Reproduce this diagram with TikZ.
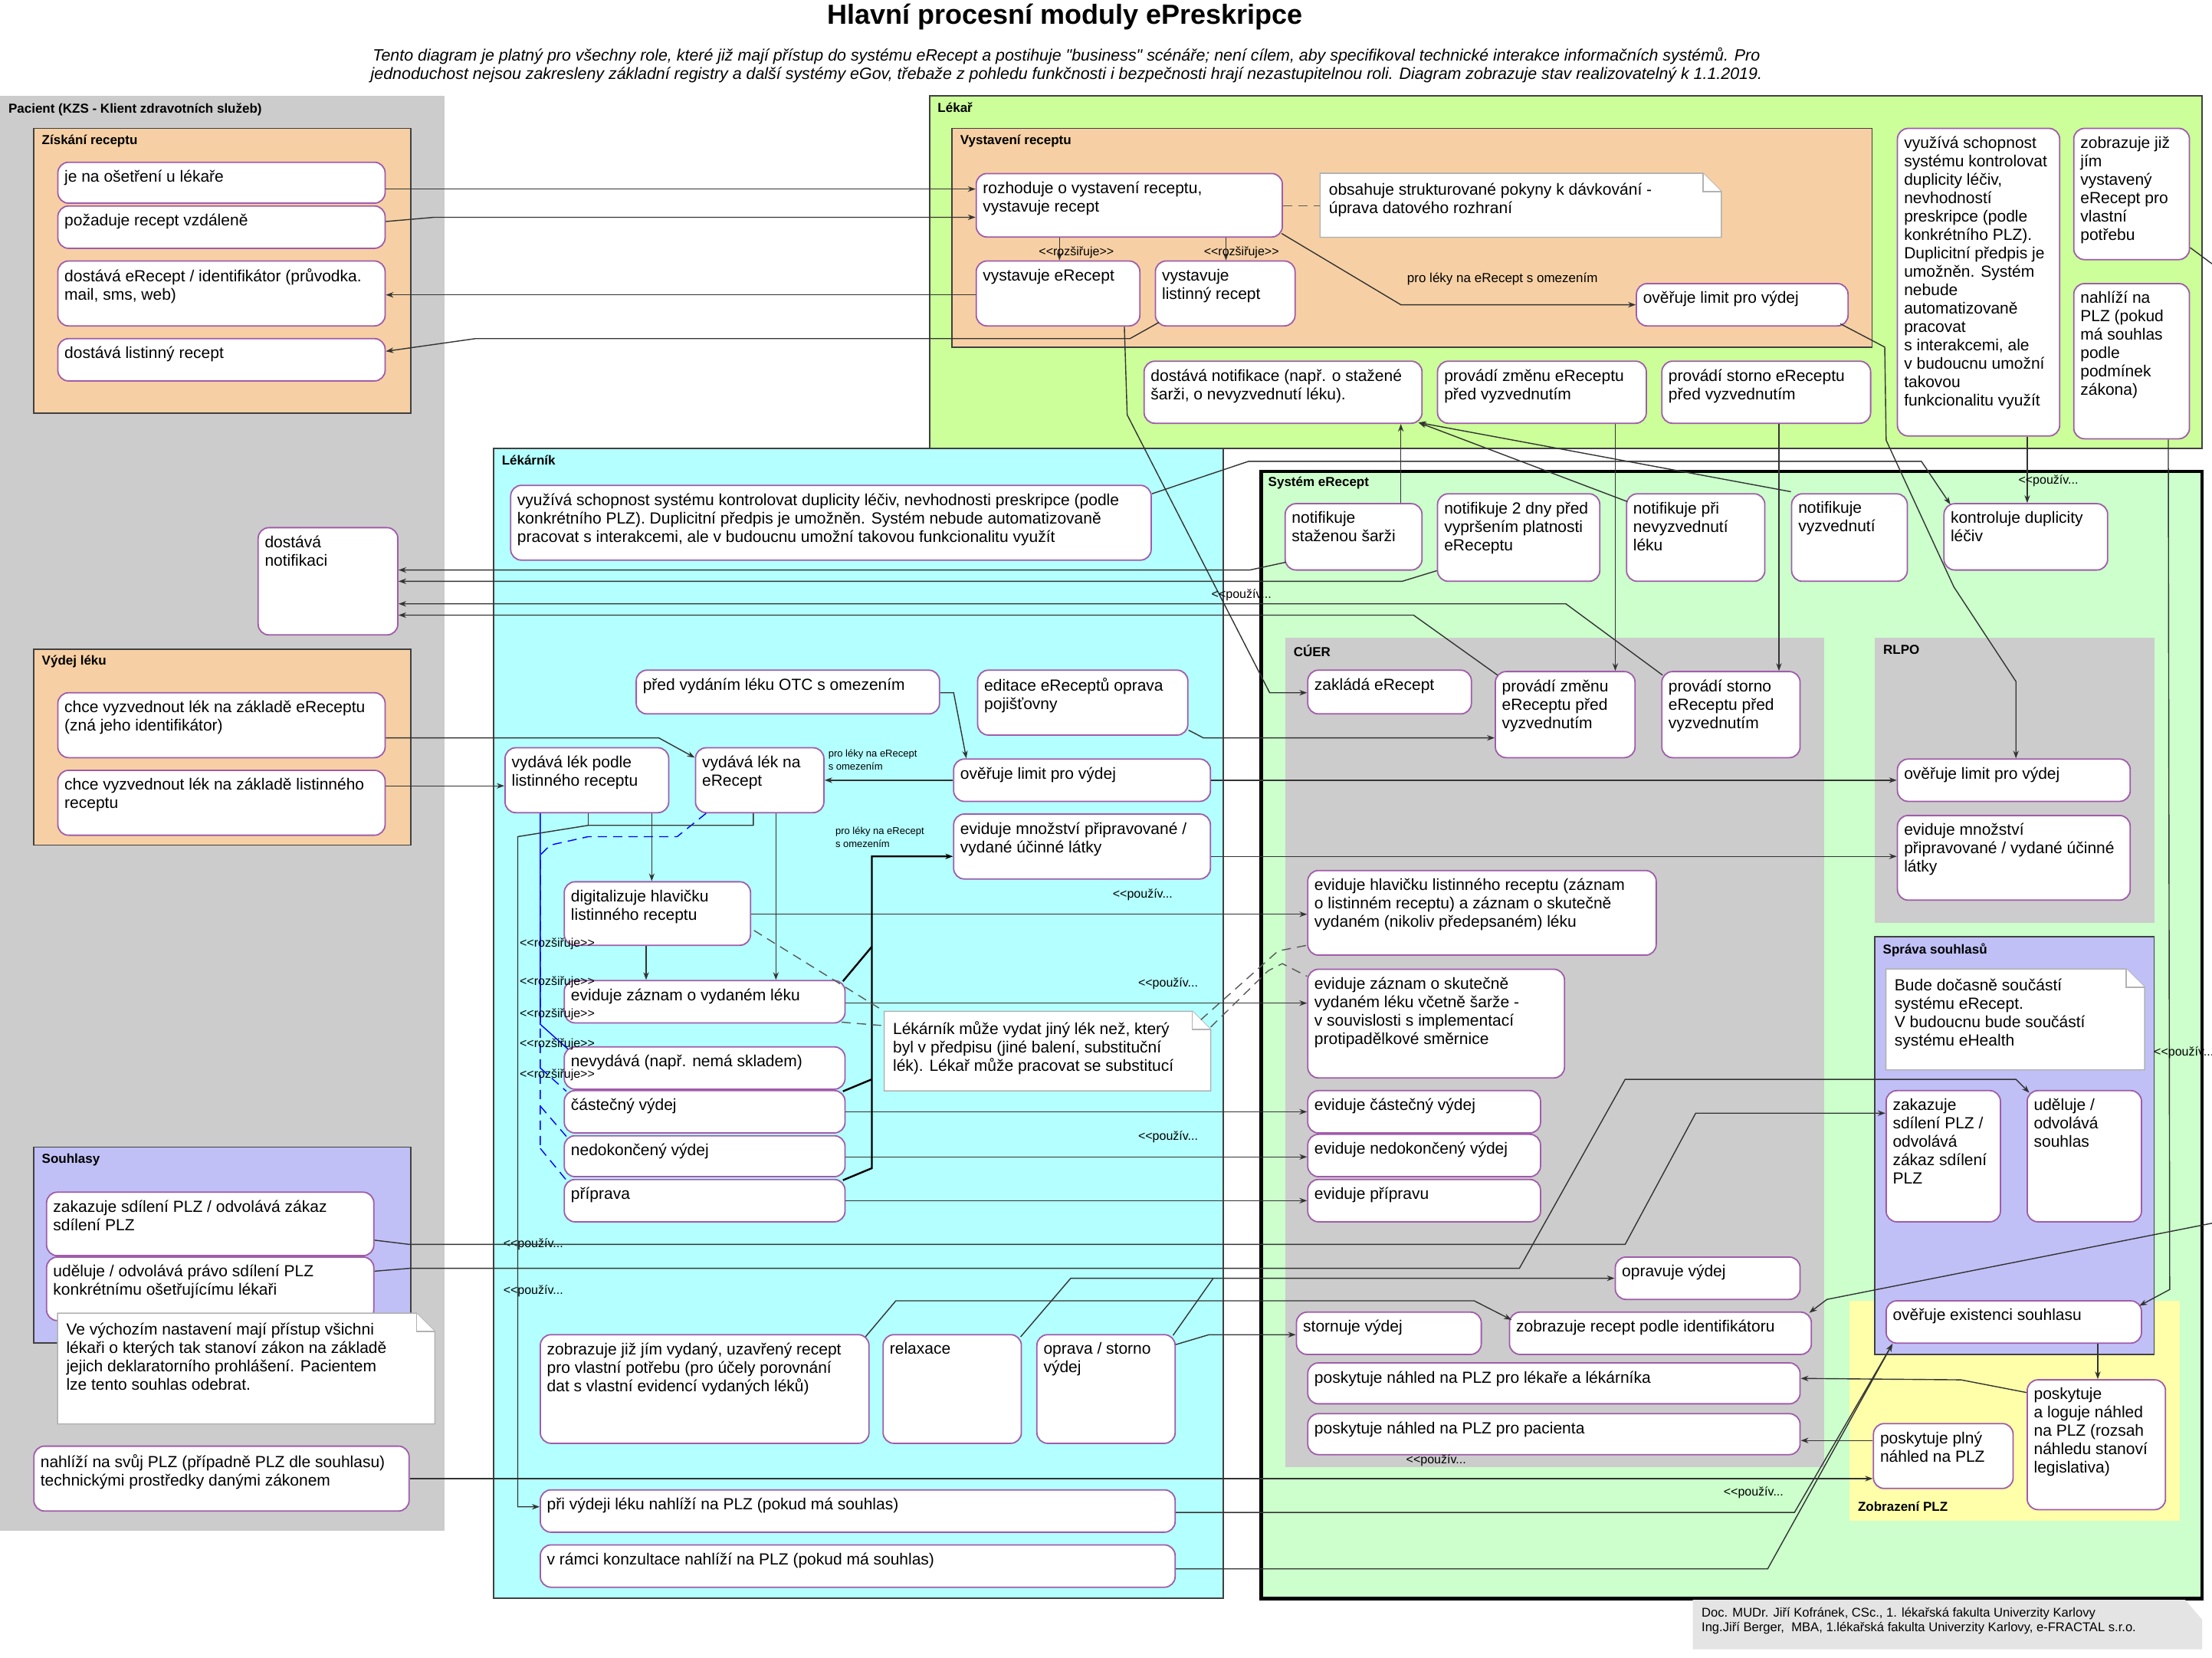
\documentclass[tikz,border=0pt]{standalone}
\usepackage{fontspec}
\setmainfont{Liberation Sans}
\usetikzlibrary{fit,calc,arrows.meta}
\definecolor{boxb}{RGB}{160,92,170}
\definecolor{gray1}{RGB}{204,204,204}
\definecolor{orng}{RGB}{246,208,164}
\definecolor{lav}{RGB}{192,192,246}
\definecolor{grn1}{RGB}{204,255,153}
\definecolor{grn2}{RGB}{204,255,204}
\definecolor{cyn}{RGB}{180,255,255}
\definecolor{yel}{RGB}{255,255,170}
\definecolor{foot}{RGB}{228,228,228}
\newcommand\ubx[6]{\node[ubox,fit={(#2,#3) (#4,#5)}] (#1) {};\node[btext] (#1t) at ($(#1.north west)+(5,6)$) {#6};}
\newcommand\ucont[7]{\node[#6,fit={(#2,#3) (#4,#5)},inner sep=0] (#1) {};\node[clabel] (#1t) at ($(#1.north west)+(6,5)$) {#7};}
\newcommand\unote[6]{\node[fit={(#2,#3) (#4,#5)},inner sep=0] (#1) {};
\draw[notes] (#1.north west) -- ($(#1.north east)+(-13,0)$) -- ($(#1.north east)+(0,13)$) -- (#1.south east) -- (#1.south west) -- cycle;
\draw[notes] ($(#1.north east)+(-13,0)$) -- ($(#1.north east)+(-13,13)$) -- ($(#1.north east)+(0,13)$);
\node[btext] (#1t) at ($(#1.north west)+(6,7)$) {#6};}
\newcommand\pouz{<\kern0pt<použív...}
\newcommand\rozs{<\kern0pt<rozšiřuje>\kern0pt>}
\begin{document}
\begin{tikzpicture}[x=0.9203pt,y=-0.9203pt,
 ubox/.style={draw=boxb,line width=0.9pt,fill=white,rounded corners=7pt,inner sep=0},
 btext/.style={anchor=north west,align=left,inner sep=0,font=\fontsize{10.5}{12}\selectfont},
 clabel/.style={anchor=north west,inner sep=0,font=\fontsize{8.5}{10}\selectfont\bfseries},
 notes/.style={draw=black!30,line width=0.8pt,fill=white},
 cont/.style={draw=black!75,line width=0.9pt},
 conn/.style={draw=black!80,line width=0.7pt},
 arr/.style={conn,-{Stealth[length=5pt,width=3.6pt]}},
 thk/.style={draw=black,line width=1.2pt},
 dsh/.style={draw=black!65,line width=0.7pt,dash pattern=on 6pt off 4pt},
 blu/.style={draw=blue,line width=0.7pt},
 bluds/.style={blu,dash pattern=on 6pt off 4pt},
 lbl/.style={inner sep=0,font=\fontsize{8}{9}\selectfont},
 slbl/.style={inner sep=0,anchor=north west,align=left,font=\fontsize{6.5}{8.5}\selectfont},
]
\fill[white] (0,0) rectangle (1568,1175);
\useasboundingbox (0,0) rectangle (1568,1175);

% ---------- title ----------
\node[font=\fontsize{18}{20}\selectfont\bfseries] (title) at (755,12) {Hlavní procesní moduly ePreskripce};
\node[font=\fontsize{10.7}{12}\selectfont\itshape,align=center] (sub) at (756,46) {Tento diagram je platný pro všechny role, které již mají přístup do systému eRecept a postihuje \textquotedbl business\textquotedbl\ scénáře; není cílem, aby specifikoval technické interakce informačních systémů. Pro\\jednoduchost nejsou zakresleny základní registry a další systémy eGov, třebaže z pohledu funkčnosti i bezpečnosti hrají nezastupitelnou roli. Diagram zobrazuje stav realizovatelný k 1.1.2019.};

% ---------- containers ----------
\ucont{pac}{0}{68}{315}{1085}{fill=gray1}{Pacient (KZS - Klient zdravotních služeb)}
\ucont{ziskani}{24}{91}{291}{293}{cont,fill=orng}{Získání receptu}
\ucont{vydej}{24}{460}{291}{599}{cont,fill=orng}{Výdej léku}
\ucont{souhl}{24}{813}{291}{952}{cont,fill=lav}{Souhlasy}
\ucont{lekar}{659}{68}{1561}{318}{cont,fill=grn1}{Lékař}
\ucont{vyst}{675}{91}{1327}{246}{cont,fill=orng}{Vystavení receptu}
\ucont{lekarnik}{350}{318}{867}{1133}{cont,fill=cyn}{Lékárník}
\ucont{system}{894}{334}{1561}{1133}{draw=black,line width=2.2pt,fill=grn2}{Systém eRecept}
\ucont{cuer}{911}{452}{1293}{1040}{fill=gray1}{CÚER}
\ucont{rlpo}{1329}{452}{1527}{654}{fill=gray1}{RLPO}
\node[fill=yel,fit={(1311,922) (1545,1078)},inner sep=0] (zobr) {};
\node[clabel,anchor=south west] (zobrt) at ($(zobr.south west)+(6,-7)$) {Zobrazení PLZ};
\ucont{sprava}{1329}{664}{1527}{960}{cont,fill=lav}{Správa souhlasů}

% ---------- footer ----------
\path[fill=foot] (1200,1134) -- (1549,1134) -- (1561,1148) -- (1561,1169) -- (1200,1169) -- cycle;
\node[anchor=north west,align=left,inner sep=0,font=\fontsize{8.3}{9.5}\selectfont] (foottext) at (1206,1139) {Doc. MUDr. Jiří Kofránek, CSc., 1. lékařská fakulta Univerzity Karlovy\\Ing.Jiří Berger,\ \ MBA, 1.lékařská fakulta Univerzity Karlovy, e-FRACTAL s.r.o.};

% ---------- Pacient boxes ----------
\ubx{p1}{41}{115}{273}{144}{je na ošetření u lékaře}
\ubx{p2}{41}{146}{273}{176}{požaduje recept vzdáleně}
\ubx{p3}{41}{185}{273}{231}{dostává eRecept / identifikátor (průvodka.\\mail, sms, web)}
\ubx{p4}{41}{240}{273}{270}{dostává listinný recept}
\ubx{p5}{183}{374}{282}{450}{dostává\\notifikaci}
\ubx{p6}{41}{491}{273}{537}{chce vyzvednout lék na základě eReceptu\\(zná jeho identifikátor)}
\ubx{p7}{41}{546}{273}{592}{chce vyzvednout lék na základě listinného\\receptu}
\ubx{p8}{33}{845}{265}{890}{zakazuje sdílení PLZ / odvolává zákaz\\sdílení PLZ}
\ubx{p9}{33}{891}{265}{936}{uděluje / odvolává právo sdílení PLZ\\konkrétnímu ošetřujícímu lékaři}
\unote{pnote}{41}{931}{308}{1009}{Ve výchozím nastavení mají přístup všichni\\lékaři o kterých tak stanoví zákon na základě\\jejich deklaratorního prohlášení. Pacientem\\lze tento souhlas odebrat.}
\ubx{p10}{24}{1025}{290}{1071}{nahlíží na svůj PLZ (případně PLZ dle souhlasu)\\technickými prostředky danými zákonem}

% ---------- Lékař boxes ----------
\ubx{l1}{692}{123}{909}{168}{rozhoduje o vystavení receptu,\\vystavuje recept}
\unote{lnote}{936}{123}{1220}{168}{obsahuje strukturované pokyny k dávkování -\\úprava datového rozhraní}
\ubx{l2}{692}{185}{808}{231}{vystavuje eRecept}
\ubx{l3}{819}{185}{918}{231}{vystavuje\\listinný recept}
\ubx{l4}{1160}{201}{1310}{231}{ověřuje limit pro výdej}
\ubx{l5}{811}{256}{1008}{300}{dostává notifikace (např. o stažené\\šarži, o nevyzvednutí léku).}
\ubx{l6}{1019}{256}{1167}{300}{provádí změnu eReceptu\\před vyzvednutím}
\ubx{l7}{1178}{256}{1326}{300}{provádí storno eReceptu\\před vyzvednutím}
\ubx{l8}{1345}{91}{1460}{309}{využívá schopnost\\systému kontrolovat\\duplicity léčiv,\\nevhodností\\preskripce (podle\\konkrétního PLZ).\\Duplicitní předpis je\\umožněn. Systém\\nebude\\automatizovaně\\pracovat\\s~interakcemi, ale\\v~budoucnu umožní\\takovou\\funkcionalitu využít}
\ubx{l9}{1470}{91}{1552}{184}{zobrazuje již\\jím\\vystavený\\eRecept pro\\vlastní\\potřebu}
\ubx{l10}{1470}{201}{1552}{311}{nahlíží na\\PLZ (pokud\\má souhlas\\podle\\podmínek\\zákona)}

% ---------- Lékárník boxes ----------
\ubx{k1}{362}{344}{816}{397}{využívá schopnost systému kontrolovat duplicity léčiv, nevhodnosti preskripce (podle\\konkrétního PLZ). Duplicitní předpis je umožněn. Systém nebude automatizovaně\\pracovat s~interakcemi, ale v~budoucnu umožní takovou funkcionalitu využít}
\ubx{k2}{451}{475}{666}{506}{před vydáním léku OTC s omezením}
\ubx{k3}{693}{475}{842}{521}{editace eReceptů oprava\\pojišťovny}
\ubx{k4}{358}{530}{474}{576}{vydává lék podle\\listinného receptu}
\ubx{k5}{493}{530}{584}{576}{vydává lék na\\eRecept}
\ubx{k6}{676}{538}{858}{568}{ověřuje limit pro výdej}
\ubx{k7}{676}{577}{858}{623}{eviduje množství připravované /\\vydané účinné látky}
\ubx{k8}{400}{625}{532}{670}{digitalizuje hlavičku\\listinného receptu}
\ubx{k9}{400}{695}{599}{725}{eviduje záznam o vydaném léku}
\ubx{k10}{400}{742}{599}{772}{nevydává (např. nemá skladem)}
\ubx{k11}{400}{773}{599}{803}{částečný výdej}
\ubx{k12}{400}{805}{599}{834}{nedokončený výdej}
\ubx{k13}{400}{836}{599}{866}{příprava}
\unote{knote}{627}{717}{858}{773}{Lékárník může vydat jiný lék než, který\\byl v předpisu (jiné balení, substituční\\lék). Lékař může pracovat se substitucí}
\ubx{k14}{383}{946}{616}{1023}{zobrazuje již jím vydaný, uzavřený recept\\pro vlastní potřebu (pro účely porovnání\\dat s vlastní evidencí vydaných léků)}
\ubx{k15}{626}{946}{724}{1023}{relaxace}
\ubx{k16}{735}{946}{833}{1023}{oprava / storno\\výdej}
\ubx{k17}{383}{1056}{833}{1086}{při výdeji léku nahlíží na PLZ (pokud má souhlas)}
\ubx{k18}{383}{1095}{833}{1125}{v rámci konzultace nahlíží na PLZ (pokud má souhlas)}

% ---------- Systém eRecept boxes ----------
\ubx{s1}{911}{357}{1008}{404}{notifikuje\\staženou šarži}
\ubx{s2}{1019}{350}{1134}{412}{notifikuje 2 dny před\\vypršením platnosti\\eReceptu}
\ubx{s3}{1153}{350}{1251}{412}{notifikuje při\\nevyzvednutí\\léku}
\ubx{s4}{1270}{350}{1352}{412}{notifikuje\\vyzvednutí}
\ubx{s5}{1378}{357}{1494}{404}{kontroluje duplicity\\léčiv}
\ubx{c1}{927}{475}{1043}{506}{zakládá eRecept}
\ubx{c2}{1060}{476}{1159}{537}{provádí změnu\\eReceptu před\\vyzvednutím}
\ubx{c3}{1178}{476}{1276}{537}{provádí storno\\eReceptu před\\vyzvednutím}
\ubx{c4}{927}{617}{1174}{677}{eviduje hlavičku listinného receptu (záznam\\o listinném receptu) a záznam o skutečně\\vydaném (nikoliv předepsaném) léku}
\ubx{c5}{927}{687}{1109}{764}{eviduje záznam o skutečně\\vydaném léku včetně šarže -\\v~souvislosti s implementací\\protipadělkové směrnice}
\ubx{c6}{927}{773}{1092}{803}{eviduje částečný výdej}
\ubx{c7}{927}{804}{1092}{834}{eviduje nedokončený výdej}
\ubx{c8}{927}{836}{1092}{866}{eviduje přípravu}
\ubx{c9}{1145}{891}{1276}{921}{opravuje výdej}
\ubx{c10}{919}{930}{1050}{960}{stornuje výdej}
\ubx{c11}{1070}{930}{1284}{960}{zobrazuje recept podle identifikátoru}
\ubx{c12}{927}{966}{1276}{995}{poskytuje náhled na PLZ pro lékaře a lékárníka}
\ubx{c13}{927}{1002}{1276}{1031}{poskytuje náhled na PLZ pro pacienta}
\ubx{r1}{1345}{538}{1510}{568}{ověřuje limit pro výdej}
\ubx{r2}{1345}{578}{1510}{638}{eviduje množství\\připravované / vydané účinné\\látky}
\unote{snote}{1337}{687}{1520}{758}{Bude dočasně součástí\\systému eRecept.\\V budoucnu bude součástí\\systému eHealth}
\ubx{sv1}{1337}{773}{1418}{866}{zakazuje\\sdílení PLZ /\\odvolává\\zákaz sdílení\\PLZ}
\ubx{sv2}{1437}{773}{1518}{866}{uděluje /\\odvolává\\souhlas}
\ubx{sv3}{1337}{922}{1518}{952}{ověřuje existenci souhlasu}
\ubx{z1}{1437}{978}{1535}{1070}{poskytuje\\a loguje náhled\\na PLZ (rozsah\\náhledu stanoví\\legislativa)}
\ubx{z2}{1328}{1009}{1427}{1055}{poskytuje plný\\náhled na PLZ}

% ---------- connectors: Pacient / Lékař ----------
\draw[arr] (p1.east |- 0,134) -- (l1.west |- 0,134);
\draw[arr] (p2.east |- 0,157) -- (308,154) -- (l1.west |- 0,154);
\draw[arr] (l2.west |- 0,209) -- (p3.east |- 0,209);
\draw[arr] ([shift={(3,-3)}]l3.south west) -- (801,240) -- (337,240) -- (p4.east |- 0,249);
\draw[arr] (797,0 |- l2.south) -- (799,294) -- (900,491) -- (c1.west |- 0,491);
\draw[dsh] (l1.east |- 0,146) -- (lnote.west |- 0,146);
\draw[arr] (l1.south -| 751,0) -- (l2.north -| 751,0);
\draw[arr] (l1.south -| 869,0) -- (l3.north -| 869,0);
\node[lbl] (rz1) at (763,179) {\rozs};
\node[lbl] (rz2) at (880,179) {\rozs};
\draw[arr] ([shift={(-1,-3)}]l1.south east) -- (993,216) -- (l4.west |- 0,216);
\node[lbl,font=\fontsize{8.5}{10}\selectfont] (lim1) at (1065,198) {pro léky na eRecept s omezením};
\draw[arr] ([shift={(-6,-2)}]l4.south east) -- (1336,246) -- (1337,312) -- (1385,416) -- (1429,483) -- (r1.north -| 1429,0);

% notifications
\draw[arr] (s1.north -| 993,0) -- (l5.south -| 993,0);
\draw[arr] ([shift={(1,6)}]s3.north west) -- ([shift={(-3,-1)}]l5.south east);
\draw[arr] ([shift={(0,-1)}]s4.north west) -- ([shift={(-3,-1)}]l5.south east);
\draw[arr] ([shift={(1,-6)}]s1.south west) -- (886,404) -- (p5.east |- 0,404);
\draw[arr] ([shift={(0,-8)}]s2.south west) -- (994,412) -- (p5.east |- 0,412);
\draw[arr] ([shift={(1,3)}]c3.north west) -- (1110,428) -- (p5.east |- 0,428);
\draw[arr] ([shift={(2,3)}]c2.north west) -- (1002,436) -- (p5.east |- 0,436);
\node[lbl] (pz1) at (880,422) {\pouz};
\draw[arr] (l6.south -| 1145,0) -- (c2.north -| 1145,0);
\draw[arr] (l7.south -| 1261,0) -- (c3.north -| 1261,0);
\draw[arr] (l8.south -| 1437,0) -- (s5.north -| 1437,0);
\node[lbl] (pz2) at (1452,341) {\pouz};
\draw[arr] (k1.east |- 0,350) -- (885,327) -- (1362,327) -- ([shift={(5,1)}]s5.north west);
\coordinate (offR1) at (1568,187);
\coordinate (offR2) at (1568,867);
\draw[conn] ([shift={(0,-9)}]l9.south east) -- (offR1);
\draw[arr] (offR2) -- (1295,921) -- ([shift={(-2,1)}]c11.north east);
\draw[arr] (l10.south -| 1537,0) -- (1538,914) -- ([shift={(-2,4)}]sv3.north east);
\node[lbl] (pz3) at (1548,746) {\pouz};

% ---------- Lékárník ----------
\draw[arr] (p6.east |- 0,523) -- (467,523) -- (k5.west |- 0,537);
\draw[arr] (p7.east |- 0,557) -- (k4.west |- 0,557);
\draw[arr] (k2.east |- 0,491) -- (676,491) -- (k6.north -| 685,0);
\draw[arr] (k6.west |- 0,553) -- (k5.east |- 0,553);
\node[slbl] (lim2) at (587,531) {pro léky na eRecept\\s omezením};
\draw[arr] (k6.east |- 0,553) -- (r1.west |- 0,553);
\draw[arr] (k7.east |- 0,607) -- (r2.west |- 0,607);
\draw[arr] ([shift={(0,-4)}]k3.south east) -- (853,523) -- (c2.west |- 0,523);
\draw[arr] (k5.south -| 550,0) -- (k9.north -| 550,0);
\draw[arr] (k4.south -| 462,0) -- (k8.north -| 462,0);
\draw[arr] (k8.south -| 458,0) -- (k9.north -| 458,0);
\draw[arr] (k8.east |- 0,648) -- (c4.west |- 0,648);
\draw[arr] (k9.east |- 0,711) -- (c5.west |- 0,711);
\draw[arr] (k11.east |- 0,788) -- (c6.west |- 0,788);
\draw[arr] (k12.east |- 0,820) -- (c7.west |- 0,820);
\draw[arr] (k13.east |- 0,851) -- (c8.west |- 0,851);
\node[lbl] (pz4) at (810,634) {\pouz};
\node[lbl] (pz5) at (828,697) {\pouz};
\node[lbl] (pz6) at (828,806) {\pouz};
\draw[thk,-{Stealth[length=5pt,width=3.6pt]}] ([shift={(-2,1)}]k13.north east) -- (618,828) -- (618,607) -- (k7.west |- 0,607);
\draw[thk] ([shift={(-2,1)}]k11.north east) -- (618,765);
\draw[thk] ([shift={(-2,1)}]k9.north east) -- (618,671);
\node[slbl] (lim3) at (592,586) {pro léky na eRecept\\s omezením};
\draw[dsh] ([shift={(2,-11)}]k8.south east) -- (knote.north west);
\draw[dsh] ([shift={(-3,-1)}]k9.south east) -- (knote.west |- 0,727);
\draw[dsh] ([shift={(-7,6)}]knote.north east) -- (906,674) -- (c4.west |- 0,670);
\draw[dsh] (knote.east |- 0,728) -- (899,688) -- (909,683) -- (c5.west |- 0,692);
% extends (blue)
\draw[blu] (k4.south -| 383,0) -- (383,726) -- ([shift={(3,2)}]k10.north west);
\draw[bluds] ([shift={(8,0)}]k5.south west) -- (480,593) -- (417,593) -- (390,599) -- (383,606) -- (383,814);
\draw[bluds] (383,757) -- ([shift={(2,1)}]k11.north west);
\draw[bluds] (383,784) -- ([shift={(2,1)}]k12.north west);
\draw[bluds] (383,814) -- ([shift={(2,1)}]k13.north west);
\node[lbl] (rz3) at (395,669) {\rozs};
\node[lbl] (rz4) at (395,696) {\rozs};
\node[lbl] (rz5) at (395,719) {\rozs};
\node[lbl] (rz6) at (395,740) {\rozs};
\node[lbl] (rz7) at (395,762) {\rozs};
% to při výdeji
\draw[conn] (k4.south -| 417,0) -- (417,585);
\draw[arr] (k5.south -| 534,0) -- (534,585) -- (417,585) -- (367,593) -- (367,1068) -- (k17.west |- 0,1068);
\node[lbl] (pz7) at (378,882) {\pouz};
\node[lbl] (pz8) at (378,915) {\pouz};
\draw[arr] ([shift={(-3,2)}]k14.north east) -- (635,922) -- (1045,922) -- ([shift={(2,6)}]c11.north west);
\draw[arr] ([shift={(-1,2)}]k15.north east) -- (759,906) -- (c9.west |- 0,906);
\draw[conn] ([shift={(-2,1)}]k16.north east) -- (860,906);
\draw[arr] (k16.east |- 0,953) -- (857,946) -- (c10.west |- 0,946);

% ---------- Souhlasy ----------
\draw[arr] (p8.east |- 0,879) -- (290,882) -- (1152,882) -- (1202,789) -- (sv1.west |- 0,789);
\draw[arr] (p9.east |- 0,901) -- (290,899) -- (1077,899) -- (1152,765) -- (1429,765) -- ([shift={(2,2)}]sv2.north west);
\draw[arr] (p10.east |- 0,1048) -- (z2.west |- 0,1048);
\node[lbl] (pz9) at (1243,1058) {\pouz};
\draw[arr] (k17.east |- 0,1072) -- (1272,1072) -- ([shift={(5,0)}]sv3.south west);
\draw[arr] (k18.east |- 0,1112) -- (1253,1112) -- ([shift={(5,0)}]sv3.south west);
\draw[arr] (sv3.south -| 1487,0) -- (z1.north -| 1487,0);
\draw[arr] (z1.west |- 0,987) -- (1390,978) -- (c12.east |- 0,977);
\draw[arr] (z2.west |- 0,1021) -- (c13.east |- 0,1021);
\node[lbl] (pz10) at (1018,1035) {\pouz};
\end{tikzpicture}
\end{document}
